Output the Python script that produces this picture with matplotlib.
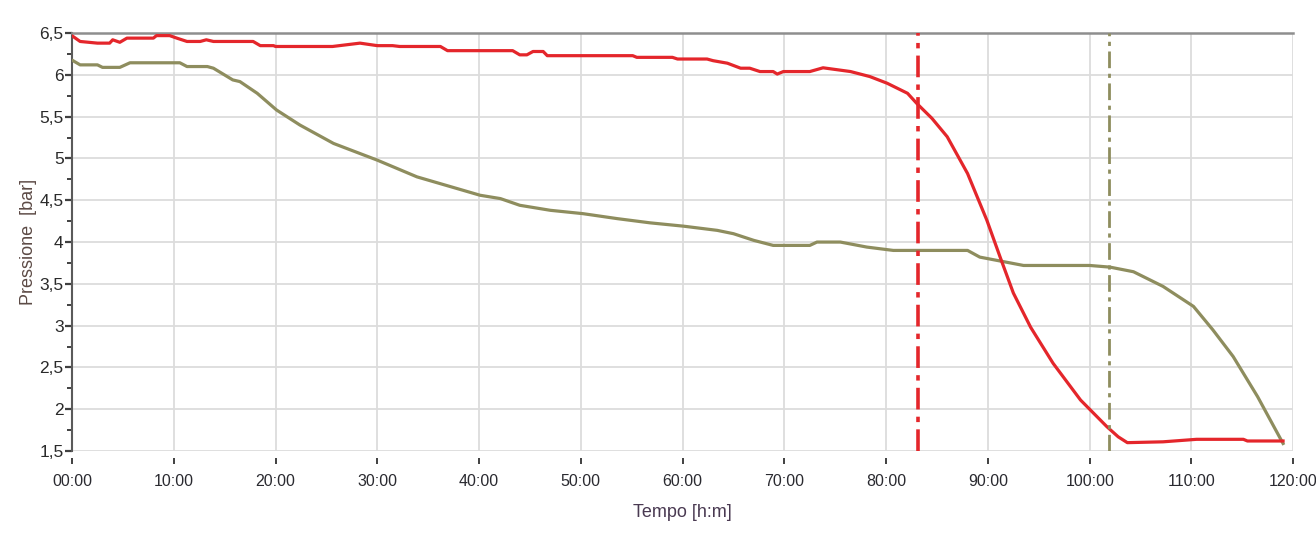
import matplotlib
matplotlib.use('Agg')
import matplotlib.pyplot as plt
from matplotlib.ticker import MultipleLocator

# Pressione linea rossa [h, bar]
red_t = [0.1, 0.8, 2.5, 3.7, 4.0, 4.7, 5.4, 8.0, 8.3, 9.6, 10.3, 11.3, 12.6, 13.2, 13.9,
         17.8, 18.5, 19.8, 20.0, 25.6, 28.3, 30.0, 31.5, 32.2, 36.2, 36.9, 43.3, 44.0,
         44.7, 45.3, 46.3, 46.7, 55.1, 55.5, 59.0, 59.5, 62.4, 63.0, 64.4, 65.7, 66.6,
         67.6, 68.9, 69.3, 69.9, 72.5, 73.8, 76.5, 78.4, 80.1, 82.1, 83.0, 84.5, 86.0,
         88.0, 89.9, 91.2, 92.5, 94.2, 96.4, 99.1, 101.7, 102.8, 103.7, 107.2, 110.5,
         115.1, 115.5, 119.0]
red_p = [6.46, 6.40, 6.38, 6.38, 6.42, 6.39, 6.44, 6.44, 6.47, 6.47, 6.44, 6.40, 6.40, 6.42, 6.40,
         6.40, 6.35, 6.35, 6.34, 6.34, 6.38, 6.35, 6.35, 6.34, 6.34, 6.29, 6.29, 6.24,
         6.24, 6.28, 6.28, 6.23, 6.23, 6.21, 6.21, 6.19, 6.19, 6.17, 6.14, 6.08, 6.08,
         6.04, 6.04, 6.01, 6.04, 6.04, 6.085, 6.04, 5.98, 5.90, 5.78, 5.66, 5.48, 5.26,
         4.82, 4.26, 3.82, 3.39, 2.98, 2.55, 2.11, 1.79, 1.67, 1.60, 1.61, 1.64,
         1.64, 1.62, 1.62]

# Pressione linea verde [h, bar]
olive_t = [0.1, 0.8, 2.5, 3.0, 4.7, 5.7, 10.6, 11.3, 13.3, 13.9, 15.8, 16.5, 18.2, 20.1,
           22.4, 25.7, 30.0, 33.9, 40.1, 42.1, 44.0, 47.0, 50.2, 53.6, 56.8, 60.1, 63.4,
           65.0, 67.0, 68.9, 72.5, 73.2, 75.5, 78.1, 80.7, 88.0, 89.2, 93.5, 100.0, 102.0,
           104.3, 107.2, 110.2, 112.1, 114.1, 116.5, 119.0]
olive_p = [6.17, 6.12, 6.12, 6.09, 6.09, 6.145, 6.145, 6.10, 6.10, 6.08, 5.94, 5.92, 5.78, 5.58,
           5.40, 5.18, 4.98, 4.78, 4.56, 4.52, 4.44, 4.38, 4.34, 4.28, 4.23, 4.19, 4.14,
           4.10, 4.02, 3.96, 3.96, 4.00, 4.00, 3.94, 3.90, 3.90, 3.82, 3.72, 3.72, 3.70,
           3.645, 3.47, 3.23, 2.95, 2.63, 2.15, 1.59]

# istanti segnati con linea tratto-punto
red_mark = 83.1
olive_mark = 101.9

x_ticks = [0, 10, 20, 30, 40, 50, 60, 70, 80, 90, 100, 110, 120]
x_labels = ['00:00', '10:00', '20:00', '30:00', '40:00', '50:00', '60:00',
            '70:00', '80:00', '90:00', '100:00', '110:00', '120:00']
y_ticks = [1.5, 2, 2.5, 3, 3.5, 4, 4.5, 5, 5.5, 6, 6.5]
y_labels = ['1,5', '2', '2,5', '3', '3,5', '4', '4,5', '5', '5,5', '6', '6,5']

RED = '#e4262b'
OLIVE = '#8e8d5e'

plt.rcParams['font.family'] = ['Liberation Sans', 'DejaVu Sans']

fig = plt.figure(figsize=(13.16, 5.34), dpi=100)
ax = fig.add_axes([0.0547, 0.1554, 0.928, 0.7826])

ax.plot(olive_t, olive_p, color=OLIVE, lw=2.3, zorder=3)
ax.plot(red_t, red_p, color=RED, lw=2.3, zorder=4)
ax.axvline(red_mark, color=RED, lw=2.6, ls=(0, (6, 2, 1.5, 2)), zorder=5)
ax.axvline(olive_mark, color=OLIVE, lw=2.0, ls=(0, (6, 2, 1.5, 2)), zorder=5)

ax.set_xlim(0, 120)
ax.set_ylim(1.5, 6.5)
ax.set_xticks(x_ticks)
ax.set_xticklabels(x_labels)
ax.set_yticks(y_ticks)
ax.set_yticklabels(y_labels)
ax.yaxis.set_minor_locator(MultipleLocator(0.25))

ax.grid(True, which='major', color='#dcdcdc', lw=1.3, zorder=0)
ax.set_axisbelow(True)

for s in ['right', 'bottom']:
    ax.spines[s].set_visible(False)
ax.spines['bottom'].set_position(('outward', 5))
ax.spines['top'].set_color('#8e8e8e')
ax.spines['top'].set_linewidth(1.8)
ax.spines['left'].set_color('#5a5a5a')
ax.spines['left'].set_linewidth(1.5)

ax.tick_params(axis='y', which='major', length=5, width=1.6, color='#404040',
               labelsize=12.5, pad=1, labelcolor='#2a2a2a')
ax.tick_params(axis='y', which='minor', length=3.5, width=1.4, color='#404040')
ax.tick_params(axis='x', length=4.5, width=1.4, color='#404040',
               labelsize=11.5, pad=7, labelcolor='#2a2a30')

ax.set_xlabel('Tempo [h:m]', fontsize=13, color='#4a3a52', labelpad=11)
ax.set_ylabel('Pressione  [bar]', fontsize=13, color='#5c4a45', labelpad=2)

fig.savefig('out.png', dpi=100)
